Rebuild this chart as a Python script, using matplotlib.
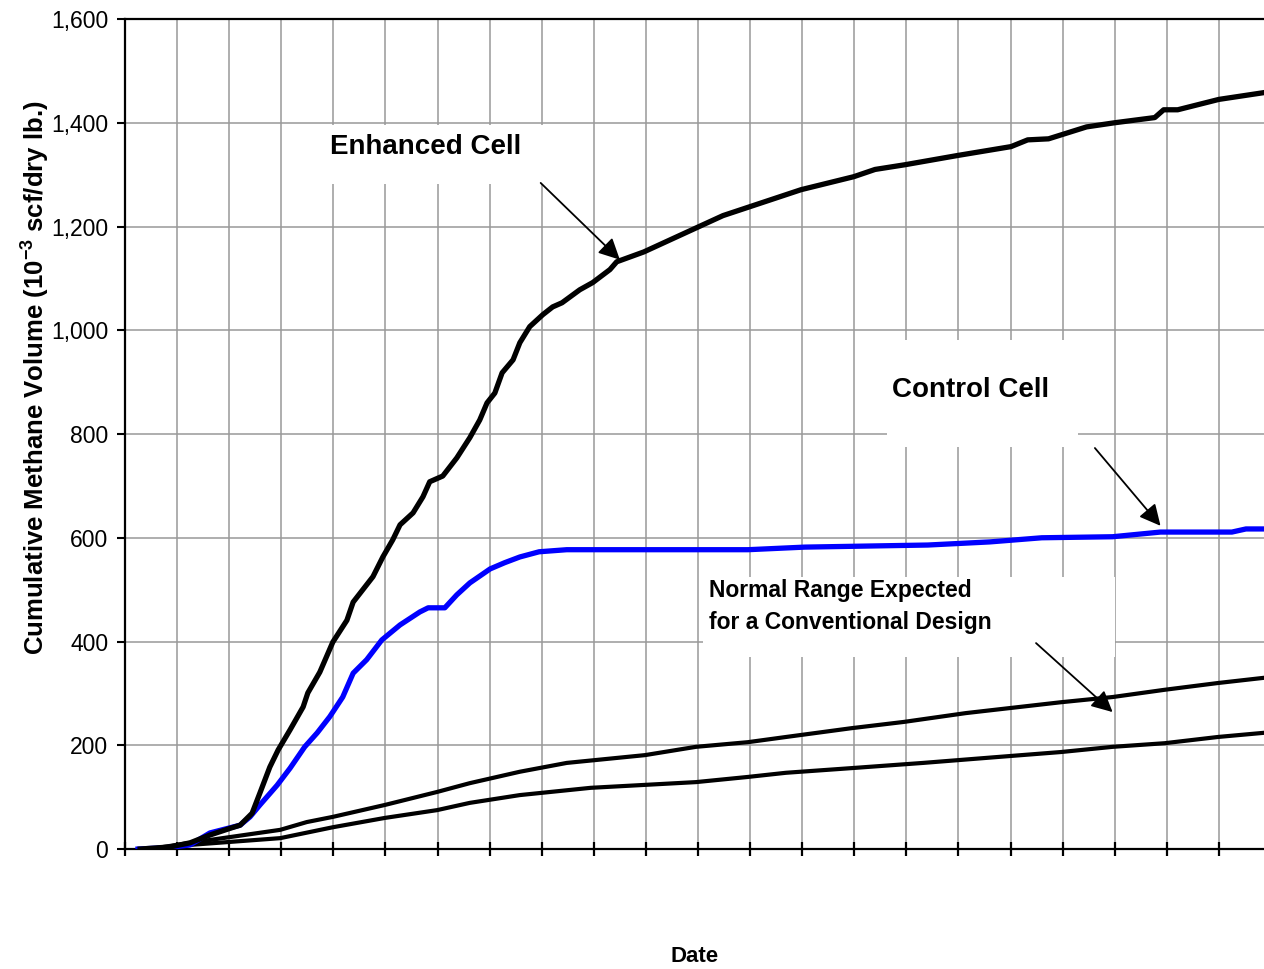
import matplotlib
matplotlib.use('Agg')
import matplotlib.pyplot as plt
from matplotlib.patches import Rectangle
from matplotlib.ticker import StrMethodFormatter, MultipleLocator, NullFormatter

plt.rcParams['font.family'] = ['Liberation Sans', 'DejaVu Sans']
plt.rcParams['mathtext.fontset'] = 'custom'
plt.rcParams['mathtext.rm'] = 'Liberation Sans'
plt.rcParams['mathtext.bf'] = 'Liberation Sans:bold'

# x in months since start (one grid step per month), y in 10^-3 scf/dry lb
enh_x = [0.29, 0.86, 1.25, 1.63, 2.02, 2.21, 2.44, 2.59, 2.78, 2.94, 3.17, 3.42, 3.51,
         3.74, 3.99, 4.26, 4.38, 4.76, 4.95, 5.14, 5.28, 5.53, 5.72, 5.85, 6.10, 6.37,
         6.62, 6.81, 6.95, 7.10, 7.24, 7.45, 7.58, 7.77, 8.02, 8.21, 8.39, 8.73, 8.98,
         9.31, 9.44, 9.96, 10.98, 11.48, 12.98, 13.99, 14.40, 14.97, 15.99, 17.01,
         17.33, 17.73, 18.46, 19.00, 19.77, 19.94, 20.21, 21.00, 21.86]
enh_y = [0, 4, 12, 27, 40, 46, 69, 108, 158, 191, 230, 274, 301,
         341, 399, 441, 476, 525, 563, 596, 625, 648, 679, 708, 719, 754,
         793, 827, 860, 879, 918, 943, 976, 1007, 1030, 1045, 1053, 1078, 1092,
         1117, 1132, 1151, 1198, 1221, 1271, 1296, 1310, 1319, 1337, 1354,
         1367, 1369, 1392, 1400, 1410, 1425, 1425, 1445, 1458]

ctl_x = [0.25, 0.86, 1.25, 1.63, 2.21, 2.40, 2.59, 2.92, 3.17, 3.45, 3.69, 3.93, 4.18,
         4.38, 4.64, 4.93, 5.28, 5.66, 5.82, 6.14, 6.37, 6.62, 7.01, 7.29, 7.58, 7.95,
         8.48, 11.96, 13.05, 15.41, 16.60, 17.60, 18.96, 19.88, 21.25, 21.52, 21.86]
ctl_y = [0, 3, 8, 31, 46, 62, 85, 123, 156, 197, 224, 255, 293,
         339, 365, 403, 432, 457, 465, 465, 490, 513, 540, 552, 563, 573,
         577, 577, 582, 586, 592, 600, 602, 611, 611, 617, 617]

conv_hi_x = [0.48, 1.25, 2.98, 3.49, 3.99, 4.99, 5.99, 6.62, 7.58, 8.48, 9.98, 10.96,
             11.96, 12.69, 13.95, 14.95, 16.14, 17.01, 17.97, 18.96, 19.96, 20.98, 21.86]
conv_hi_y = [0, 12, 37, 52, 62, 85, 110, 127, 149, 166, 181, 197,
             206, 216, 233, 245, 262, 272, 283, 293, 307, 320, 330]

conv_lo_x = [0.77, 1.25, 2.98, 3.99, 4.99, 5.99, 6.62, 7.58, 8.94, 10.96, 11.96, 12.69,
             13.95, 15.32, 16.70, 17.97, 18.96, 19.96, 20.98, 21.86]
conv_lo_y = [0, 8, 21, 42, 60, 75, 89, 104, 118, 129, 139, 147,
             156, 166, 177, 187, 197, 204, 216, 224]

fig = plt.figure(figsize=(12.64, 9.69), dpi=100)
ax = fig.add_axes([0.0989, 0.1238, 0.9066, 0.8566])

ax.set_xlim(0, 22)
ax.set_ylim(0, 1600)
ax.xaxis.set_major_locator(MultipleLocator(1))
ax.xaxis.set_major_formatter(NullFormatter())
ax.yaxis.set_major_locator(MultipleLocator(200))
ax.yaxis.set_major_formatter(StrMethodFormatter('{x:,.0f}'))
ax.grid(True, color='#999999', lw=1.1, zorder=0)
ax.set_axisbelow(True)

for s in ['left', 'bottom', 'top']:
    ax.spines[s].set_linewidth(1.6)
ax.spines['right'].set_visible(False)
ax.tick_params(axis='y', direction='out', length=6, width=1.5, labelsize=16.5, pad=6)
ax.tick_params(axis='x', direction='inout', length=10, width=1.6)

# white label boxes hiding the grid
for (x0, x1, y0, y1) in [(3.84, 8.06, 1281, 1396), (14.63, 18.29, 775, 982), (11.09, 19.00, 370, 525)]:
    ax.add_patch(Rectangle((x0, y0), x1 - x0, y1 - y0, facecolor='white', edgecolor='none', zorder=1))

ax.plot(conv_lo_x, conv_lo_y, color='black', lw=3.0, zorder=3)
ax.plot(conv_hi_x, conv_hi_y, color='black', lw=3.0, zorder=3)
ax.plot(ctl_x, ctl_y, color='#0000ff', lw=3.8, zorder=4)
ax.plot(enh_x, enh_y, color='black', lw=3.8, zorder=5)

ax.text(5.78, 1354, 'Enhanced Cell', fontsize=20, fontweight='bold', ha='center', va='center', zorder=6)
ax.text(16.24, 885, 'Control Cell', fontsize=20, fontweight='bold', ha='center', va='center', zorder=6)
ax.text(11.21, 467, 'Normal Range Expected\nfor a Conventional Design', fontsize=16.5,
        fontweight='bold', ha='left', va='center', linespacing=1.5, zorder=6)

arrow = dict(arrowstyle='-|>', mutation_scale=32, lw=1.3, color='black', shrinkA=0, shrinkB=0)
ax.annotate('', xy=(9.50, 1136), xytext=(7.98, 1284), arrowprops=arrow, zorder=7)
ax.annotate('', xy=(19.88, 623), xytext=(18.62, 773), arrowprops=arrow, zorder=7)
ax.annotate('', xy=(18.96, 264), xytext=(17.49, 397), arrowprops=arrow, zorder=7)

fig.text(35 / 1264, 1 - 378 / 969, 'Cumulative Methane Volume (10$^{\\mathbf{-3}}$ scf/dry lb.)',
         fontsize=18.5, fontweight='bold', rotation=90, ha='center', va='center')
fig.text(695 / 1264, 1 - 957 / 969, 'Date', fontsize=16, fontweight='bold', ha='center', va='center')

fig.savefig('out.png', dpi=100)
